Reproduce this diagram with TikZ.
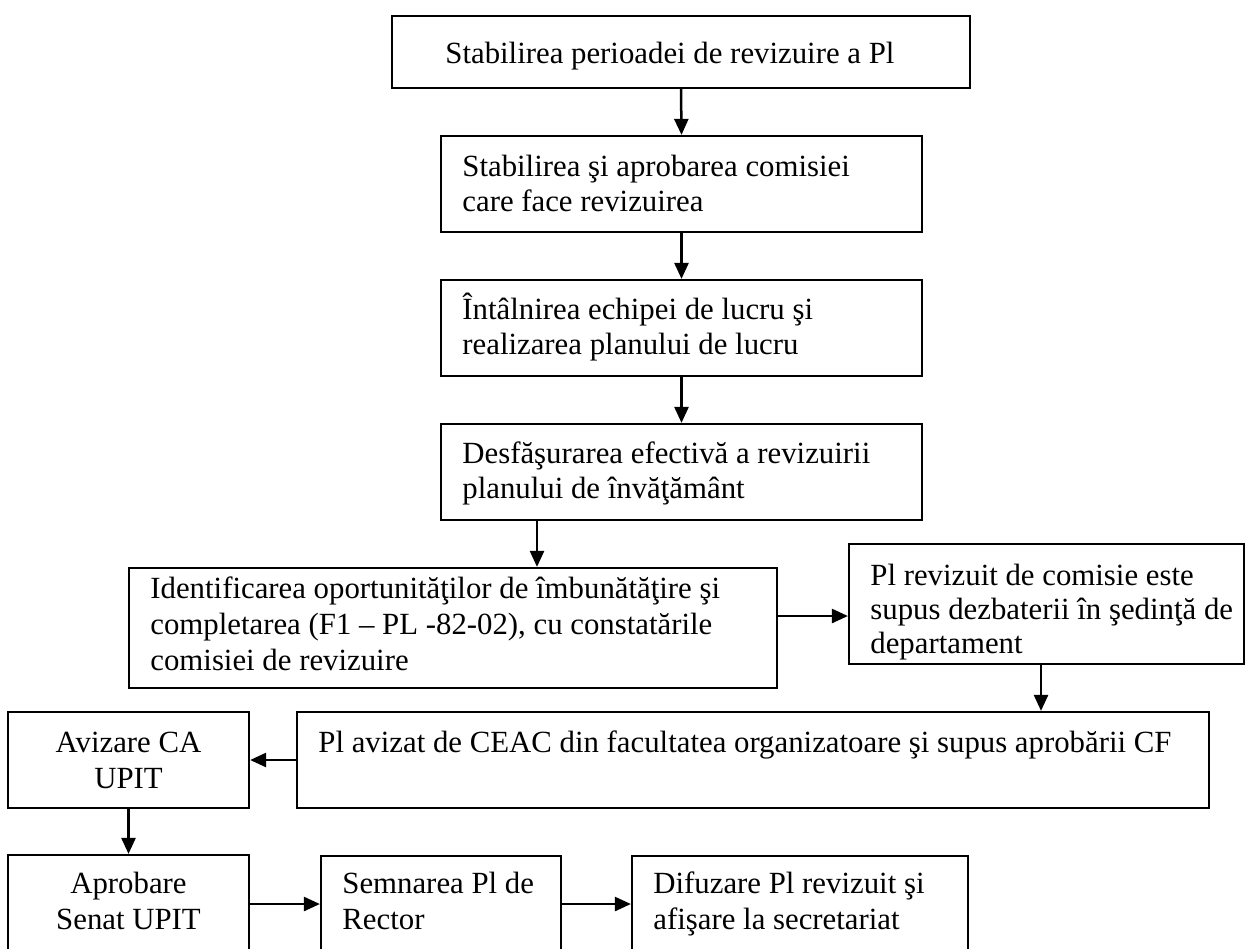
\documentclass[tikz,border=0pt]{standalone}
\usepackage{fontspec}
\setmainfont{Liberation Serif}
\usetikzlibrary{arrows.meta,fit}
\newcommand\Ltext[1]{\begin{tabular}[t]{@{}l@{}}#1\end{tabular}}
\newcommand\Ctext[1]{\begin{tabular}[t]{@{}c@{}}#1\end{tabular}}
\tikzset{
  stepbox/.style={draw, line width=1.1pt, inner sep=0pt},
  txt/.style={inner sep=0pt, font=\fontsize{15.4pt}{17.5pt}\selectfont},
  txtb/.style={inner sep=0pt, font=\fontsize{15.4pt}{18.2pt}\selectfont},
  txtc/.style={inner sep=0pt, font=\fontsize{15.4pt}{17pt}\selectfont},
  arr/.style={line width=1.25pt, -{Triangle[length=8pt,width=7pt]}}
}
\begin{document}
\begin{tikzpicture}[x=0.5pt,y=-0.5pt]
\useasboundingbox (0,0) rectangle (1246,948);
\clip (0,0) rectangle (1246,948);
\fill[white] (0,0) rectangle (1246,948);
% boxes
\node[stepbox, fit={(392,16) (970,88)}] (b1) {};
\node[stepbox, fit={(441,136) (922,232)}] (b2) {};
\node[stepbox, fit={(441,280) (922,376)}] (b3) {};
\node[stepbox, fit={(441,424) (922,520)}] (b4) {};
\node[stepbox, fit={(129,568) (777,688)}] (b5) {};
\node[stepbox, fit={(849,544) (1244,664)}] (b6) {};
\node[stepbox, fit={(297,712) (1209,808)}] (b7) {};
\node[stepbox, fit={(8,712) (249,808)}] (b8) {};
\node[stepbox, fit={(8,855) (249,980)}] (b9) {};
\node[stepbox, fit={(321,856) (561,980)}] (b10) {};
\node[stepbox, fit={(632,856) (968,980)}] (b11) {};
% texts
\node[txt, anchor=base west] (t1) at (445,63) {Stabilirea perioadei de revizuire a Pl};
\node[txt, anchor=base west] (t2) at (462,176) {\Ltext{Stabilirea şi aprobarea comisiei\\care face revizuirea}};
\node[txt, anchor=base west] (t3) at (462,319) {\Ltext{Întâlnirea echipei de lucru şi\\realizarea planului de lucru}};
\node[txt, anchor=base west] (t4) at (462,463) {\Ltext{Desfăşurarea efectivă a revizuirii\\planului de învăţământ}};
\node[txtb, anchor=base west] (t5) at (150,598) {\Ltext{Identificarea oportunităţilor de îmbunătăţire şi\\completarea (F1 – PL -82-02), cu constatările\\comisiei de revizuire}};
\begin{scope}
\clip (849,544) rectangle (1244,660);
\node[txtc, anchor=base west] (t6) at (870,585) {\Ltext{Pl revizuit de comisie este\\supus dezbaterii în şedinţă de\\departament}};
\end{scope}
\node[txt, anchor=base west] (t7) at (318,752) {Pl avizat de CEAC din facultatea organizatoare şi supus aprobării CF};
\node[txtb, anchor=base] (t8) at (128.5,752) {\Ctext{Avizare CA\\UPIT}};
\node[txtb, anchor=base] (t9) at (128.5,893) {\Ctext{Aprobare\\Senat UPIT}};
\node[txtb, anchor=base west] (t10) at (342,893) {\Ltext{Semnarea Pl de\\Rector}};
\node[txtb, anchor=base west] (t11) at (653,893) {\Ltext{Difuzare Pl revizuit şi\\afişare la secretariat}};
% connector helpers
\coordinate (c45) at (537,0);
\coordinate (c56) at (0,616);
\coordinate (c67) at (1041,0);
\coordinate (cbot) at (0,904);
% connectors
\draw[arr] (b1.south) -- (b2.north);
\draw[arr] (b2.south) -- (b3.north);
\draw[arr] (b3.south) -- (b4.north);
\draw[arr] (b4.south -| c45) -- (b5.north -| c45);
\draw[arr] (b5.east |- c56) -- (b6.west |- c56);
\draw[arr] (b6.south -| c67) -- (b7.north -| c67);
\draw[arr] (b7.west) -- (b8.east);
\draw[arr] (b8.south) -- (b9.north);
\draw[arr] (b9.east |- cbot) -- (b10.west |- cbot);
\draw[arr] (b10.east |- cbot) -- (b11.west |- cbot);
\end{tikzpicture}
\end{document}
